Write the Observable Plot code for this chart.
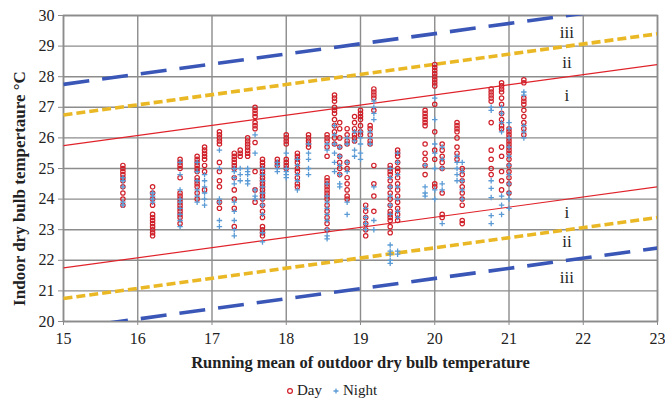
<!DOCTYPE html>
<html>
<head>
<meta charset="utf-8">
<script src="https://cdn.jsdelivr.net/npm/d3@7"></script>
<script src="https://cdn.jsdelivr.net/npm/@observablehq/plot@0.6"></script>
<style>
  html, body { margin: 0; padding: 0; background: #fff; }
  #wrap { width: 665px; height: 405px; position: relative; font-family: "Liberation Serif", "DejaVu Serif", serif; }
  #legend { height: 30px; line-height: 30px; text-align: center; font-size: 15px; color: #222; padding-right: 2px; }
  #legend span.item { margin: 0 5px; }
  #legend svg { vertical-align: middle; margin-right: 3px; position: relative; top: -1px; }
  svg text { font-family: "Liberation Serif", "DejaVu Serif", serif; }
</style>
</head>
<body>
<div id="wrap"><div id="chart"></div><div id="legend"></div></div>
<script>
// ---- data ----
const xColumns = [15.8, 16.2, 16.57, 16.8, 16.9, 17.1, 17.3, 17.38, 17.48, 17.58, 17.68, 17.88, 18.0, 18.15, 18.3,
  18.55, 18.65, 18.72, 18.82, 18.92, 19.0, 19.07, 19.13, 19.18, 19.4, 19.5, 19.87, 20.0, 20.1, 20.3, 20.37,
  20.76, 20.9, 21.0, 21.2];

const dayTemps = [
  [25.1, 25.0, 24.9, 24.8, 24.7, 24.6, 24.4, 24.2, 24.0, 23.8],
  [24.4, 24.2, 24.0, 23.8, 23.5, 23.4, 23.3, 23.2, 23.1, 23.0, 22.9, 22.8],
  [25.3, 25.2, 25.1, 25.0, 24.7, 24.2, 24.1, 24.0, 23.9, 23.8, 23.7, 23.6, 23.5, 23.4, 23.2],
  [25.4, 25.3, 25.2, 25.1, 25.0, 24.9, 24.7, 24.6, 24.5, 24.4, 24.2, 24.0],
  [25.7, 25.6, 25.5, 25.4, 25.3, 25.1, 24.9, 24.3],
  [26.2, 26.1, 26.0, 25.9, 25.8, 25.2, 24.9, 24.6, 24.4, 23.9, 23.7],
  [25.5, 25.4, 25.3, 25.2, 25.1, 25.0, 24.7, 24.3, 24.0, 23.7, 23.1],
  [25.6, 25.5, 25.4],
  [26.0, 25.9, 25.8, 25.7, 25.6, 25.5, 25.4],
  [27.0, 26.9, 26.8, 26.7, 26.5, 26.4, 26.3, 25.85, 24.9, 24.3, 23.9],
  [25.3, 25.2, 25.1, 25.0, 24.9, 24.8, 24.7, 24.6, 24.5, 24.4, 24.3, 24.2, 24.1, 24.0, 23.8, 23.6, 23.4, 23.1, 23.0, 22.9, 22.8],
  [25.3, 25.2, 25.1],
  [26.1, 26.0, 25.9, 25.8, 25.3, 25.2, 25.1, 25.0],
  [25.5, 25.4, 25.3, 25.2, 25.0, 24.9, 24.7, 24.5, 24.4],
  [26.1, 26.0, 25.9, 25.8, 25.7],
  [26.1, 26.0, 25.9, 25.7, 25.4, 24.7, 24.6, 24.5, 24.4, 24.3, 24.2, 24.1, 24.0, 23.8, 23.6, 23.4, 23.2, 23.0],
  [27.4, 27.3, 27.2, 27.0, 26.9, 26.8, 26.6, 26.4, 26.2, 26.0, 25.8],
  [26.5, 26.3, 26.0, 25.7, 25.4, 25.2, 25.0, 24.8],
  [26.3, 26.1, 25.9, 25.8, 25.2, 25.0, 24.7, 24.5, 24.3, 24.1, 24.0],
  [26.7, 26.5, 26.3, 26.1, 26.0, 25.9],
  [26.9, 26.8, 26.7, 26.6, 26.4, 26.2, 26.1],
  [23.8, 23.6, 23.4, 23.2, 23.0, 22.8],
  [26.4, 26.3, 26.1, 25.9, 25.8],
  [27.6, 27.5, 27.4, 27.3, 26.9, 25.1, 24.5, 24.1, 23.6],
  [25.1, 25.0, 24.9, 24.8, 24.6, 24.4, 24.2, 24.0, 23.8, 23.6, 23.5, 23.4, 23.3, 23.1, 22.9],
  [25.6, 25.5, 25.4, 25.2, 25.0, 24.9, 24.7, 24.5, 24.3, 24.1, 23.9, 23.7, 23.5, 23.3],
  [26.9, 26.8, 26.7, 26.6, 26.5, 26.4, 25.8, 25.5, 25.3, 25.1, 24.8],
  [28.4, 28.3, 28.2, 28.1, 28.0, 27.9, 27.8, 27.7, 27.1, 26.2, 25.6, 25.3, 24.5, 24.4],
  [25.8, 25.6, 25.4, 25.2, 25.0, 24.2, 23.5, 23.4],
  [26.5, 26.4, 26.3, 26.2, 26.0, 25.7, 25.5, 25.3],
  [25.0, 24.8, 24.6, 24.4, 24.2, 24.0, 23.8, 23.3, 23.2],
  [27.6, 27.5, 27.4, 27.3, 27.2, 26.5, 25.6, 25.3, 25.0, 24.8],
  [27.8, 27.7, 27.6, 27.5, 27.3, 27.1, 26.8, 26.6, 26.4, 26.3, 25.7, 25.4, 24.9, 24.6, 24.3],
  [26.3, 26.2, 26.1, 26.0, 25.9, 25.8, 25.7, 25.6, 25.5, 25.3, 25.1, 24.9, 24.7, 24.5, 24.2],
  [27.9, 27.8, 27.3, 27.2, 27.1, 26.9, 26.7, 26.5, 26.3, 26.1]
];

const nightTemps = [
  [24.7, 24.6, 24.4, 23.9, 23.8],
  [24.2, 24.1, 24.0, 23.9],
  [25.2, 24.8, 24.3, 24.0, 23.9, 23.7, 23.5, 23.3, 23.1],
  [25.2, 24.9, 24.6, 24.3, 24.1, 23.9],
  [24.8, 24.6, 24.4, 24.2, 24.0, 23.8],
  [25.6, 25.0, 24.0, 23.9, 23.3, 23.1],
  [25.0, 24.9, 24.7, 24.5, 23.9, 23.6, 23.3, 23.0, 22.8],
  [25.0, 24.8, 24.6],
  [25.0, 24.9, 24.8, 24.6, 24.5],
  [26.1, 25.5, 24.3, 24.1, 24.0],
  [25.0, 24.8, 24.6, 24.4, 24.2, 24.0, 23.8, 23.5, 22.9, 22.6],
  [25.2, 25.1, 25.0, 24.9],
  [25.5, 25.0, 24.9, 24.8, 24.7],
  [25.3, 25.1, 24.8, 24.6, 24.3],
  [25.8, 25.5, 25.3, 25.0, 24.8],
  [25.8, 25.6, 24.5, 24.1, 23.9, 23.7, 23.5, 23.3, 23.0, 22.8, 22.7],
  [26.4, 26.1, 25.8, 25.5, 25.2, 24.9],
  [25.7, 25.4, 25.1, 24.8, 24.5, 24.4],
  [26.0, 25.8, 25.2, 24.9, 23.9, 23.5],
  [26.2, 25.9, 25.6, 25.4],
  [26.2, 26.0, 25.8, 25.5, 25.3],
  [23.7, 23.4, 23.2, 23.0],
  [26.2, 26.0, 25.8],
  [27.2, 27.0, 26.8, 26.6, 24.4, 23.3, 23.0],
  [25.0, 24.7, 24.4, 24.1, 23.8, 23.5, 22.5, 22.3, 22.2, 22.0, 21.9],
  [25.5, 25.2, 24.8, 24.4, 24.0, 23.6, 23.4, 22.3, 22.2],
  [25.1, 24.4, 24.2, 24.1],
  [27.3, 26.6, 25.8, 25.5, 25.0, 24.3, 24.0],
  [25.7, 25.3, 25.0, 24.5, 24.3, 23.2],
  [25.4, 25.2, 25.0, 24.8, 24.6],
  [25.2, 24.9, 24.6, 24.3, 24.0],
  [27.0, 26.9, 24.6, 24.35, 24.05, 23.46, 23.2],
  [27.0, 26.8, 26.5, 26.2, 24.1, 23.8, 23.5],
  [26.5, 26.3, 26.0, 25.7, 25.4, 25.1, 24.8, 24.5, 24.2, 24.0, 23.7],
  [27.5, 27.4, 26.4, 26.2, 26.0]
];

// comfort-band boundary lines: endpoints
const lineNames = ["i upper", "ii upper", "iii upper", "i lower", "ii lower", "iii lower"];
const lineCategory = ["i", "ii", "iii", "i", "ii", "iii"];
const lineX0 = [15, 15, 15, 15, 15, 15];
const lineX1 = [23, 23, 23, 23, 23, 23];
const lineY0 = [25.75, 26.75, 27.75, 21.75, 20.75, 19.75];
const lineY1 = [28.4, 29.4, 30.4, 24.4, 23.4, 22.4];

const bandLabels = ["iii", "ii", "i", "i", "ii", "iii"];
const bandLabelX = [21.78, 21.78, 21.78, 21.78, 21.78, 21.78];
const bandLabelY = [29.45, 28.45, 27.4, 23.57, 22.6, 21.45];

const xTicks = [15, 16, 17, 18, 19, 20, 21, 22, 23];
const yTicks = [20, 21, 22, 23, 24, 25, 26, 27, 28, 29, 30];

const seriesNames = ["Day", "Night"];
const seriesColors = ["#d0202a", "#5b9bd5"];

const xTitle = "Running mean of outdoor dry bulb temperature";
const yTitle = "Indoor dry bulb tempertaure °C";

// ---- build tables ----
const dayPoints = xColumns.flatMap((x, i) => dayTemps[i].map(y => ({x, y})));
const nightPoints = xColumns.flatMap((x, i) => nightTemps[i].map(y => ({x, y})));
const linePoints = lineNames.flatMap((name, i) => [
  {name, cat: lineCategory[i], x: lineX0[i], y: lineY0[i]},
  {name, cat: lineCategory[i], x: lineX1[i], y: lineY1[i]}
]);
const labels = bandLabels.map((t, i) => ({t, x: bandLabelX[i], y: bandLabelY[i]}));

const serif = "Liberation Serif";
const gridColor = "#8c8c8c";
const lineStyle = {
  i: {stroke: "#e0232b", strokeWidth: 1.2, strokeDasharray: null},
  ii: {stroke: "#e9b824", strokeWidth: 3.6, strokeDasharray: "9,4"},
  iii: {stroke: "#3a57b8", strokeWidth: 3.6, strokeDasharray: "26,13"}
};

const chart = Plot.plot({
  width: 665,
  height: 375,
  marginLeft: 63,
  marginRight: 8,
  marginTop: 15,
  marginBottom: 54,
  style: {fontFamily: "'Liberation Serif', 'DejaVu Serif', serif", fontSize: "15px", color: "#222", background: "#fff"},
  x: {domain: [15, 23], label: null},
  y: {domain: [20, 30], label: null},
  marks: [
    Plot.gridX(xTicks, {stroke: gridColor, strokeOpacity: 1, strokeWidth: 1.4}),
    Plot.gridY(yTicks, {stroke: gridColor, strokeOpacity: 1, strokeWidth: 1.4}),
    Plot.frame({stroke: gridColor, strokeWidth: 1.6}),
    Plot.axisY(yTicks, {tickSize: 5, tickPadding: 4, stroke: gridColor, tickFormat: d3.format("d"), fontSize: 16, fontFamily: serif}),
    Plot.axisX(xTicks, {tickSize: 4, tickPadding: 7, stroke: gridColor, tickFormat: d3.format("d"), fontSize: 16, fontFamily: serif}),
    ...["i", "ii", "iii"].map(c => Plot.line(linePoints.filter(d => d.cat === c), {
      x: "x", y: "y", z: "name", clip: true,
      stroke: lineStyle[c].stroke, strokeWidth: lineStyle[c].strokeWidth,
      strokeDasharray: lineStyle[c].strokeDasharray, strokeLinecap: "butt"
    })),
    Plot.dot(dayPoints, {x: "x", y: "y", r: 2.2, stroke: seriesColors[0], strokeWidth: 1.2, fill: "none"}),
    Plot.dot(nightPoints, {x: "x", y: "y", r: 1.9, symbol: "plus", stroke: seriesColors[1], strokeWidth: 1.3}),
    Plot.text(labels, {x: "x", y: "y", text: "t", fontSize: 17, fill: "#222", fontFamily: serif}),
    Plot.text([xTitle], {frameAnchor: "bottom", lineAnchor: "middle", textAnchor: "middle", dy: 41, fontWeight: "bold", fontSize: 16.5, fill: "#222", fontFamily: serif}),
    Plot.text([yTitle], {frameAnchor: "left", lineAnchor: "middle", textAnchor: "middle", dx: -44, dy: 20, rotate: -90, fontWeight: "bold", fontSize: 17, fill: "#222", fontFamily: serif})
  ]
});
document.getElementById("chart").appendChild(chart);

// legend
const legend = d3.select("#legend");
seriesNames.forEach((name, i) => {
  const item = legend.append("span").attr("class", "item");
  const svg = item.append("svg").attr("width", 8).attr("height", 8).attr("viewBox", "-4 -4 8 8");
  if (i === 0) {
    svg.append("circle").attr("r", 2.4).attr("fill", "none").attr("stroke", seriesColors[i]).attr("stroke-width", 1.2);
  } else {
    svg.append("path").attr("d", "M-2.5,0H2.5M0,-2.5V2.5").attr("stroke", seriesColors[i]).attr("stroke-width", 1.3);
  }
  item.append("span").text(name);
});
</script>
</body>
</html>
